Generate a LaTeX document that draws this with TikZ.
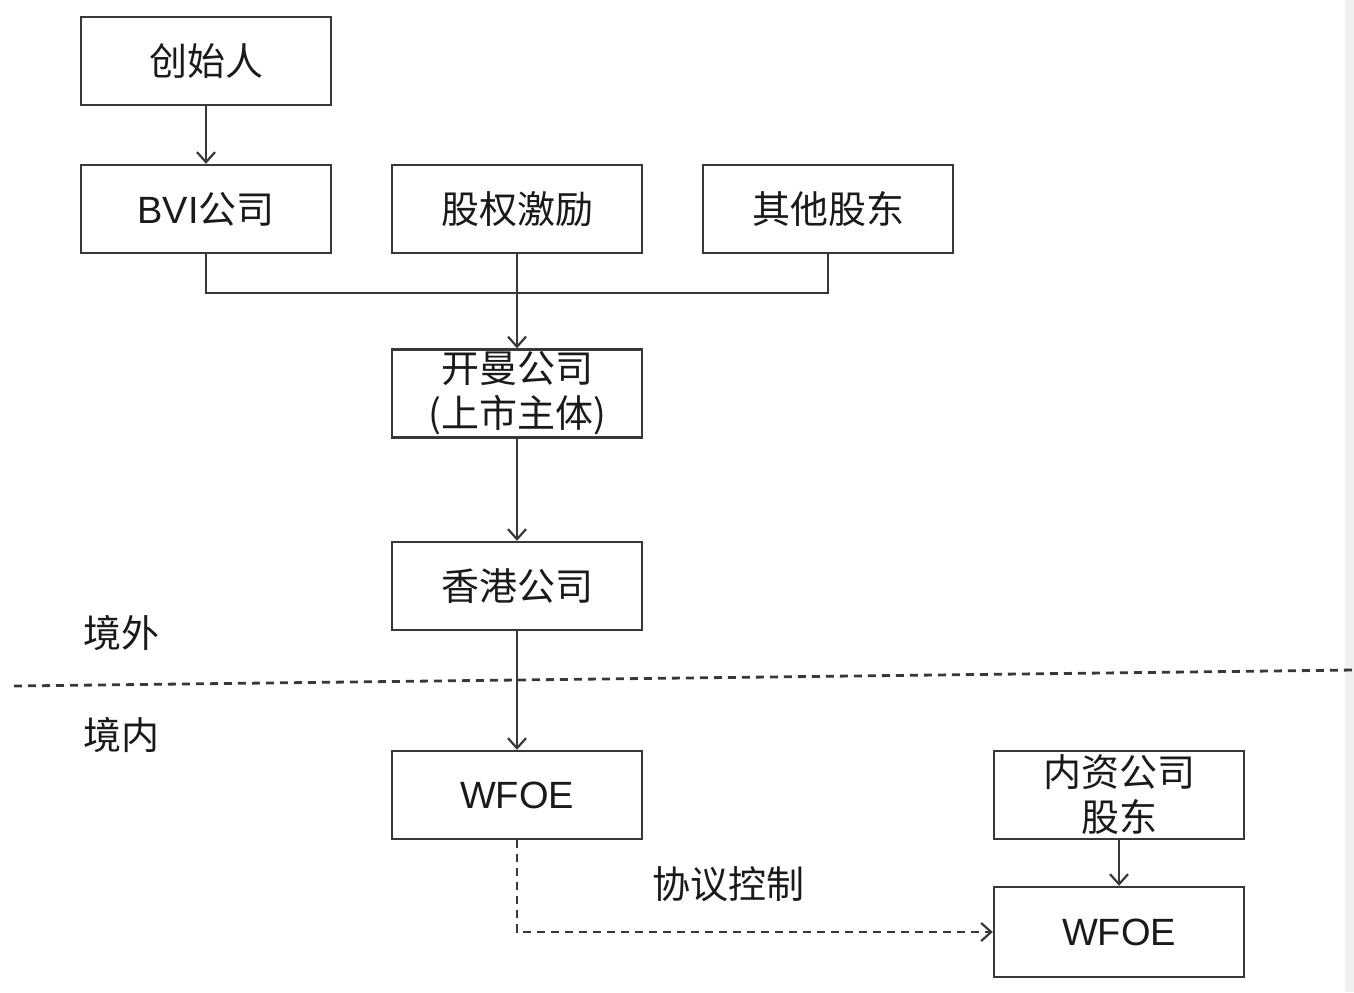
\documentclass[tikz,border=0pt]{standalone}
\usepackage{fontspec}
\setmainfont{Liberation Sans}
\newfontfamily\cjk{Noto Sans CJK SC}
\newfontfamily\lat{Liberation Sans}
\usetikzlibrary{arrows.meta}
\definecolor{ln}{HTML}{383838}
\definecolor{tx}{HTML}{1A1A1A}
\tikzset{
  box/.style={draw=ln, line width=1.2pt, minimum width=125pt, minimum height=44pt, inner sep=0pt,
     font=\fontsize{19pt}{22.5pt}\selectfont\cjk, text=tx, align=center},
  conn/.style={draw=ln, line width=1.1pt},
  arr/.style={conn, -{Straight Barb[length=5pt,width=9pt,line width=1.1pt]}},
  lbl/.style={font=\fontsize{19pt}{22.5pt}\selectfont\cjk, text=tx, inner sep=0pt},
  dashline/.style={dash pattern=on 4pt off 3pt}
}
\begin{document}
\begin{tikzpicture}[x=0.5pt,y=-0.5pt]
\useasboundingbox (0,0) rectangle (1354,992);
\fill[black!6] (1345,0) rectangle (1354,992);
\node[box] (f) at (206,61) {创始人};
\node[box] (bvi) at (206,209) {{\lat BVI}公司};
\node[box] (eq) at (517,209) {股权激励};
\node[box] (oth) at (828,209) {其他股东};
\node[box] (km) at (517,393.5) {开曼公司\\(上市主体)};
\node[box] (hk) at (517,586) {香港公司};
\node[box] (wf) at (517,795) {{\lat WFOE}};
\node[box] (nz) at (1119,795) {内资公司\\股东};
\node[box, minimum height=45pt] (wf2) at (1119,932) {{\lat WFOE}};
\node[lbl] (jw) at (121,633) {境外};
\node[lbl] (jn) at (121,735) {境内};
\node[lbl] (xy) at (728,884) {协议控制};
\coordinate (d1) at (14,686);
\coordinate (d2) at (1354,670);
\draw[conn, dashline, line width=1.4pt] (d1) -- (d2);
\draw[arr] (f) -- (bvi);
\draw[conn] (bvi.south) -- ++(0,39) -| (oth.south);
\draw[arr] (eq) -- (km);
\draw[arr] (km) -- (hk);
\draw[arr] (hk) -- (wf);
\draw[arr] (nz) -- (wf2);
\draw[arr, dashline] (wf.south) |- (wf2.west);
\end{tikzpicture}
\end{document}
